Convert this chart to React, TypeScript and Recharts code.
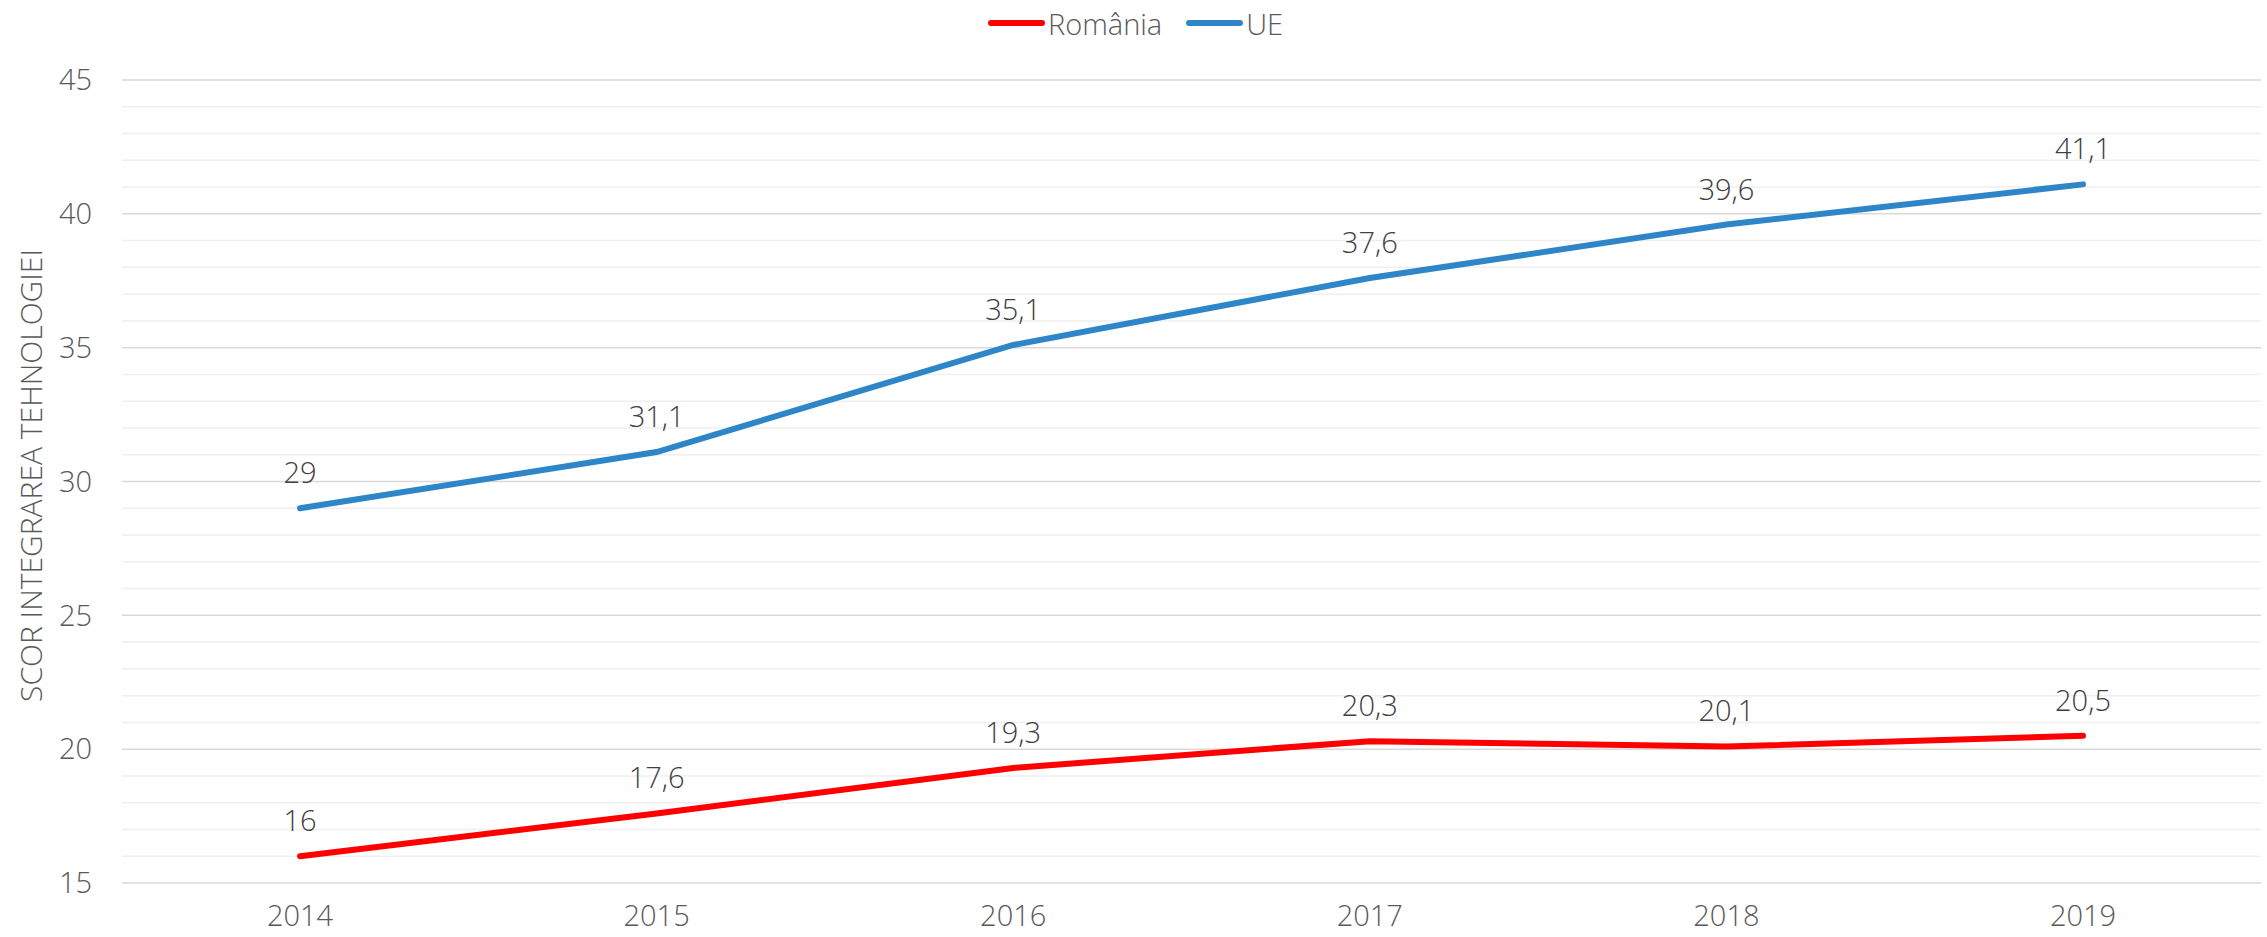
import React from "react";
import {
  LineChart,
  Line,
  XAxis,
  YAxis,
  CartesianGrid,
  Legend,
  LabelList,
} from "recharts";

const years = ["2014", "2015", "2016", "2017", "2018", "2019"];
const romania = [16, 17.6, 19.3, 20.3, 20.1, 20.5];
const ue = [29, 31.1, 35.1, 37.6, 39.6, 41.1];
const yTicks = [15, 20, 25, 30, 35, 40, 45];
const minorValues = [16, 17, 18, 19, 21, 22, 23, 24, 26, 27, 28, 29, 31, 32, 33, 34, 36, 37, 38, 39, 41, 42, 43, 44];

const seriesMeta = [
  { key: "România", color: "#ff0000" },
  { key: "UE", color: "#2e86c8" },
];

const FONT = "'Open Sans', 'Noto Sans', sans-serif";

const data = years.map((y, i) => ({ year: y, "România": romania[i], UE: ue[i] }));

const fmt = (v: any) => String(v).replace(".", ",");

function scaleOf(axis: any, v: number): number {
  const s = axis?.scale;
  if (typeof s === "function") return s(v);
  if (s && typeof s.map === "function") return s.map(v);
  return 0;
}

function LegendContent() {
  return (
    <div
      style={{
        display: "flex",
        justifyContent: "center",
        alignItems: "center",
        fontFamily: FONT,
        fontWeight: 300,
        fontSize: 29,
        color: "#595959",
        height: 46,
        paddingLeft: 10,
      }}
    >
      {seriesMeta.map((s, i) => (
        <div key={s.key} style={{ display: "flex", alignItems: "center", marginLeft: i ? 24 : 0 }}>
          <div style={{ width: 57, height: 6, borderRadius: 3, background: s.color, marginRight: 3 }} />
          <span>{s.key}</span>
        </div>
      ))}
    </div>
  );
}

function YTitle(props: any) {
  const vb = props.viewBox || { x: 0, y: 0, width: 0, height: 0 };
  const cx = 30;
  const cy = vb.y + vb.height / 2 - 6;
  return (
    <text
      x={cx}
      y={cy}
      transform={`rotate(-90 ${cx} ${cy})`}
      textAnchor="middle"
      dominantBaseline="central"
      fontFamily={FONT}
      fontWeight={300}
      fontSize={30}
      fill="#595959"
    >
      SCOR INTEGRAREA TEHNOLOGIEI
    </text>
  );
}

export default function App() {
  return (
    <div style={{ width: 2267, height: 937, background: "#fff" }}>
      <style>{`body{margin:0}`}</style>
      <LineChart width={2267} height={937} data={data} margin={{ top: 34, right: 6, left: 0, bottom: 0 }}>
        <CartesianGrid
          vertical={false}
          stroke="#efefef"
          strokeWidth={1.5}
          horizontalCoordinatesGenerator={({ yAxis }: any) => minorValues.map((v) => scaleOf(yAxis, v))}
        />
        <CartesianGrid vertical={false} stroke="#d9d9d9" strokeWidth={1.5} />
        <XAxis
          dataKey="year"
          axisLine={false}
          tickLine={false}
          tickSize={0}
          tickMargin={22}
          height={54}
          padding={{ left: 178, right: 178 }}
          tick={{ fontFamily: FONT, fontWeight: 300, fontSize: 29, fill: "#595959" }}
        />
        <YAxis
          domain={[15, 45]}
          ticks={yTicks}
          axisLine={false}
          tickLine={false}
          tickSize={0}
          tickMargin={30}
          width={122}
          tick={{ fontFamily: FONT, fontWeight: 300, fontSize: 29, fill: "#595959" }}
          label={{ content: (p: any) => <YTitle {...p} /> }}
        />
        <Legend verticalAlign="top" height={46} wrapperStyle={{ top: 0 }} content={() => <LegendContent />} />
        {seriesMeta.map((s) => (
          <Line
            key={s.key}
            dataKey={s.key}
            stroke={s.color}
            strokeWidth={6}
            strokeLinecap="round"
            dot={false}
            activeDot={false}
            isAnimationActive={false}
          >
            <LabelList
              dataKey={s.key}
              position="top"
              offset={25}
              formatter={fmt}
              style={{ fontFamily: FONT, fontWeight: 300, fontSize: 29, fill: "#404040" }}
            />
          </Line>
        ))}
      </LineChart>
    </div>
  );
}
